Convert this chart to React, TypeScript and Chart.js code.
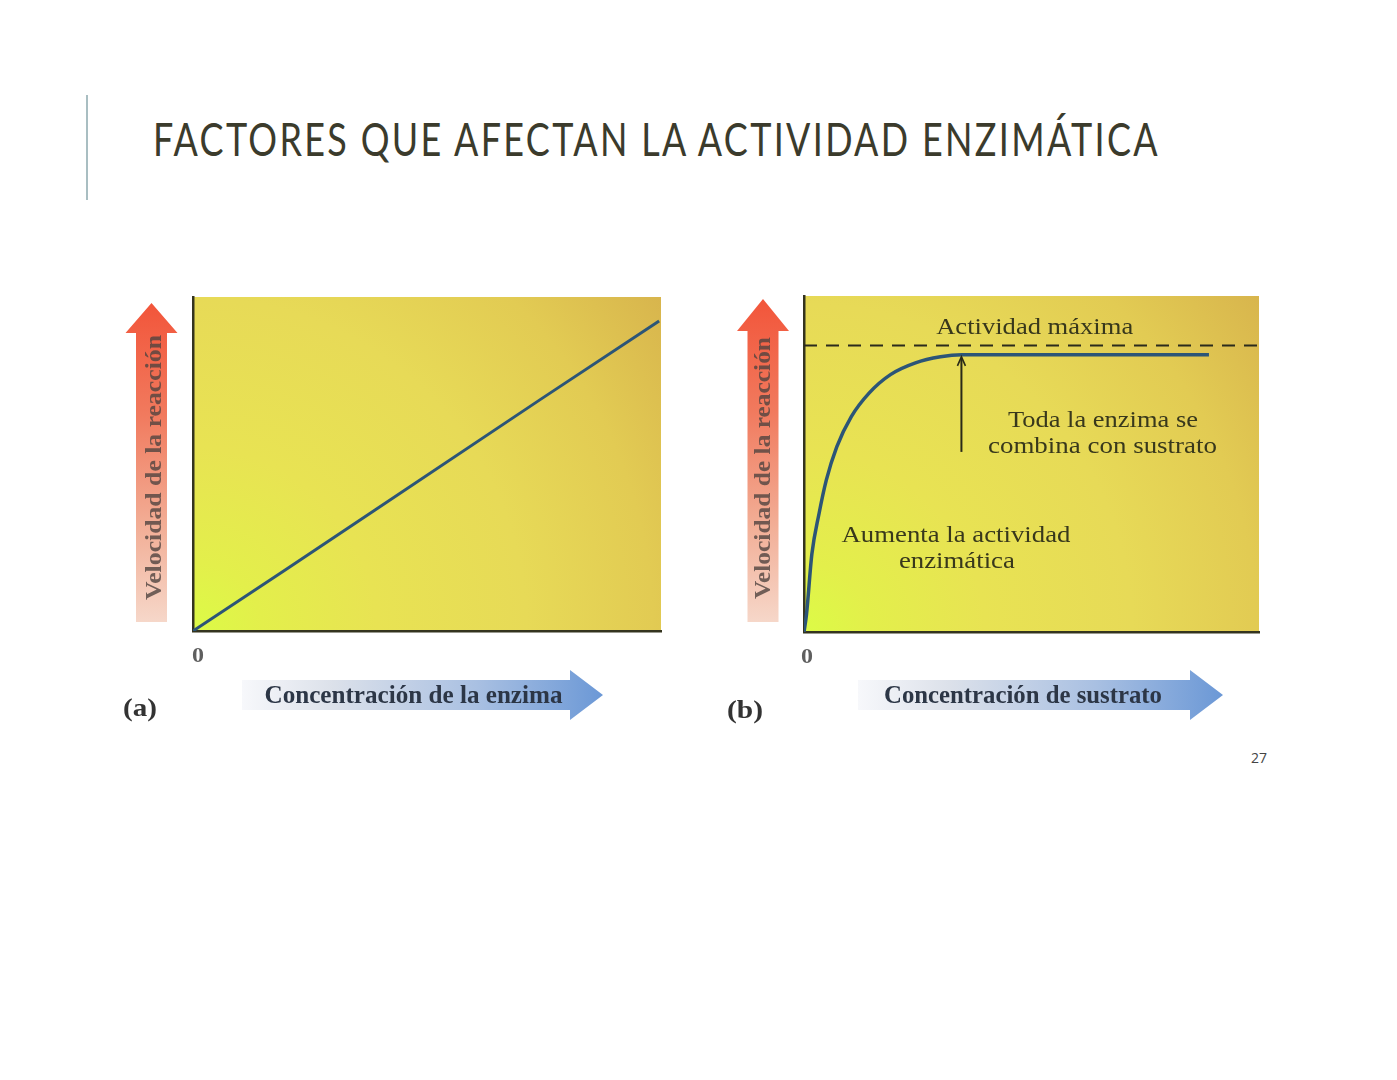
import React, { useEffect, useLayoutEffect, useRef } from 'react';
import { Chart, registerables } from 'chart.js';
Chart.register(...registerables);

// ---------- text ----------
const TITLE = 'FACTORES QUE AFECTAN LA ACTIVIDAD ENZIMÁTICA';
const PAGE_NUMBER = '27';
const yAxisLabel = 'Velocidad de la reacción';
const xAxisLabelA = 'Concentración de la enzima';
const xAxisLabelB = 'Concentración de sustrato';
const panelTags = ['(a)', '(b)'];
const zeroTick = '0';

// ---------- data ----------
const axisMin = 0;
const axisMax = 10;
// Panel (a): rate vs enzyme concentration
const enzymeConc = [0, 1.97, 3.89, 7.41, 9.96];
const enzymeRate = [0, 1.83, 3.62, 6.92, 9.28];
// Panel (b): rate vs substrate concentration
const substrateConc = [0, 0.055, 0.173, 0.33, 0.49, 0.72, 1.04, 1.43, 1.9, 2.45, 3.0, 3.47, 8.9];
const substrateRate = [0, 0.53, 2.32, 3.52, 4.52, 5.51, 6.41, 7.11, 7.66, 8.01, 8.19, 8.25, 8.25];
const maxActivityX = [0, 10];
const maxActivityY = [8.53, 8.53];
// annotations of panel (b)
const annotationTexts = [
  'Actividad máxima',
  'Toda la enzima se',
  'combina con sustrato',
  'Aumenta la actividad',
  'enzimática',
];
const annotationX = [5.07, 6.57, 6.56, 3.34, 3.36];
const annotationY = [8.87, 6.11, 5.33, 2.68, 1.9];
const saturationArrowX = 3.46;
const saturationArrowFrom = 5.36;
const saturationArrowTo = 8.19;

// ---------- styles ----------
const annotationWidths = [197, 190, 229, 229, 116];
const SERIF = '"Liberation Serif", "Times New Roman", serif';
const LINE_COLOR = '#2c5577';
const AXIS_COLOR = '#34341f';

function fitText(
  ctx: CanvasRenderingContext2D,
  text: string,
  cx: number,
  baseY: number,
  width: number,
  font: string,
  color: string,
  rotate = 0
) {
  ctx.save();
  ctx.font = font;
  const m = ctx.measureText(text).width;
  ctx.translate(cx, baseY);
  if (rotate) ctx.rotate(rotate);
  ctx.scale(width / m, 1);
  ctx.textAlign = 'center';
  ctx.textBaseline = 'alphabetic';
  ctx.fillStyle = color;
  ctx.fillText(text, 0, 0);
  ctx.restore();
}

function upArrow(ctx: CanvasRenderingContext2D, cx: number, tip: number, base: number, bottom: number, headHalf: number, shaftHalf: number) {
  const g = ctx.createLinearGradient(0, tip, 0, bottom);
  g.addColorStop(0, '#f2553a');
  g.addColorStop(0.35, '#f17a5e');
  g.addColorStop(0.7, '#f2ae96');
  g.addColorStop(1, '#f6d7c9');
  ctx.save();
  ctx.fillStyle = g;
  ctx.beginPath();
  ctx.moveTo(cx, tip);
  ctx.lineTo(cx + headHalf, base);
  ctx.lineTo(cx + shaftHalf, base);
  ctx.lineTo(cx + shaftHalf, bottom);
  ctx.lineTo(cx - shaftHalf, bottom);
  ctx.lineTo(cx - shaftHalf, base);
  ctx.lineTo(cx - headHalf, base);
  ctx.closePath();
  ctx.fill();
  ctx.restore();
}

function rightArrow(ctx: CanvasRenderingContext2D, start: number, tip: number, base: number, cy: number, headHalf: number, shaftHalf: number) {
  const g = ctx.createLinearGradient(start, 0, tip, 0);
  g.addColorStop(0, '#f7f8fb');
  g.addColorStop(0.25, '#dce1ea');
  g.addColorStop(0.65, '#a9c0e2');
  g.addColorStop(1, '#6b98d6');
  ctx.save();
  ctx.fillStyle = g;
  ctx.beginPath();
  ctx.moveTo(start, cy - shaftHalf);
  ctx.lineTo(base, cy - shaftHalf);
  ctx.lineTo(base, cy - headHalf);
  ctx.lineTo(tip, cy);
  ctx.lineTo(base, cy + headHalf);
  ctx.lineTo(base, cy + shaftHalf);
  ctx.lineTo(start, cy + shaftHalf);
  ctx.closePath();
  ctx.fill();
  ctx.restore();
}

function fillPlot(ctx: CanvasRenderingContext2D, a: any) {
  const w = a.right - a.left;
  const h = a.bottom - a.top;
  const r = Math.sqrt(w * w + h * h);
  const g = ctx.createRadialGradient(a.left, a.bottom, 0, a.left, a.bottom, r);
  g.addColorStop(0, '#dcfb46');
  g.addColorStop(0.12, '#e3ef4b');
  g.addColorStop(0.32, '#e8e353');
  g.addColorStop(0.58, '#e7da57');
  g.addColorStop(0.8, '#e2cb53');
  g.addColorStop(1, '#d8b54d');
  ctx.save();
  ctx.fillStyle = g;
  ctx.fillRect(a.left, a.top, w, h);
  ctx.restore();
}

type Geom = {
  yArrowDx: number; tipDy: number; baseDy: number; bottomDy: number;
  yLabelDx: number; yLabelDy: number; yLabelW: number;
  xStart: number; xTip: number; xBase: number; xCy: number;
  xLabelCx: number; xLabelDy: number; xLabelW: number; xLabel: string;
  zeroDx: number; tagDx: number; tagDy: number; tagW: number; tag: string;
};

function makeDecor(geom: Geom, extra?: (chart: any) => void) {
  return {
    id: 'decor',
    beforeDraw(chart: any) {
      const ctx = chart.ctx as CanvasRenderingContext2D;
      const a = chart.chartArea;
      fillPlot(ctx, a);
      // y axis arrow + label
      const cx = a.left - geom.yArrowDx;
      upArrow(ctx, cx, a.top + geom.tipDy, a.top + geom.baseDy, a.bottom - geom.bottomDy, 26, 15.5);
      fitText(ctx, yAxisLabel, a.left - geom.yLabelDx, a.top + geom.yLabelDy, geom.yLabelW,
        `bold 23px ${SERIF}`, 'rgba(80,68,64,0.8)', -Math.PI / 2);
      // x axis arrow + label
      rightArrow(ctx, a.left + geom.xStart, a.left + geom.xTip, a.left + geom.xBase, a.bottom + geom.xCy, 25, 15);
      fitText(ctx, geom.xLabel, a.left + geom.xLabelCx, a.bottom + geom.xLabelDy, geom.xLabelW,
        `bold 26px ${SERIF}`, '#2c3646');
      // zero tick
      const x0 = chart.scales.x.getPixelForValue(axisMin);
      fitText(ctx, zeroTick, x0 + geom.zeroDx, a.bottom + 30.5, 12, `bold 21px ${SERIF}`, '#5f5f5f');
      // panel tag
      fitText(ctx, geom.tag, a.left - geom.tagDx, a.bottom + geom.tagDy, geom.tagW, `bold 26px ${SERIF}`, '#333333');
    },
    afterDatasetsDraw(chart: any) {
      if (extra) extra(chart);
    },
  };
}

function axisScale() {
  return {
    type: 'linear' as const,
    min: axisMin,
    max: axisMax,
    grid: { display: false, drawTicks: false, tickLength: 0 },
    ticks: { display: false, padding: 0 },
    border: { display: true, color: AXIS_COLOR, width: 2.5 },
  };
}

function Panel(props: {
  left: number; top: number; width: number; height: number;
  padding: { left: number; top: number; right: number; bottom: number };
  datasets: any[]; plugin: any;
}) {
  const ref = useRef<HTMLCanvasElement>(null);
  useEffect(() => {
    const chart = new Chart(ref.current as HTMLCanvasElement, {
      type: 'line',
      data: { datasets: props.datasets },
      options: {
        animation: false,
        responsive: false,
        events: [],
        layout: { padding: props.padding },
        plugins: { legend: { display: false }, tooltip: { enabled: false } },
        elements: { point: { radius: 0 } },
        scales: { x: axisScale(), y: axisScale() },
      },
      plugins: [props.plugin],
    } as any);
    return () => chart.destroy();
  }, []);
  return (
    <canvas
      ref={ref}
      width={props.width}
      height={props.height}
      style={{ position: 'absolute', left: props.left, top: props.top, width: props.width, height: props.height }}
    />
  );
}

const geomA: Geom = {
  yArrowDx: 41.5, tipDy: 6, baseDy: 36, bottomDy: 9,
  yLabelDx: 32, yLabelDy: 170.5, yLabelW: 265,
  xStart: 49, xTip: 410, xBase: 377, xCy: 64,
  xLabelCx: 220.5, xLabelDy: 71.5, xLabelW: 298, xLabel: xAxisLabelA,
  zeroDx: 5, tagDx: 53, tagDy: 85, tagW: 34, tag: panelTags[0],
};

const geomB: Geom = {
  yArrowDx: 41, tipDy: 3, baseDy: 35, bottomDy: 10,
  yLabelDx: 34, yLabelDy: 172, yLabelW: 262,
  xStart: 54, xTip: 419, xBase: 386, xCy: 63,
  xLabelCx: 219, xLabelDy: 71, xLabelW: 278, xLabel: xAxisLabelB,
  zeroDx: 3, tagDx: 59, tagDy: 86, tagW: 36, tag: panelTags[1],
};

function drawAnnotationsB(chart: any) {
  const ctx = chart.ctx as CanvasRenderingContext2D;
  const xs = chart.scales.x;
  const ys = chart.scales.y;
  annotationTexts.forEach((t, i) => {
    fitText(ctx, t, xs.getPixelForValue(annotationX[i]), ys.getPixelForValue(annotationY[i]),
      annotationWidths[i], `23px ${SERIF}`, '#38381c');
  });
  const ax = xs.getPixelForValue(saturationArrowX);
  const y1 = ys.getPixelForValue(saturationArrowFrom);
  const y2 = ys.getPixelForValue(saturationArrowTo);
  ctx.save();
  ctx.strokeStyle = '#2a2a18';
  ctx.lineWidth = 2;
  ctx.beginPath();
  ctx.moveTo(ax, y1);
  ctx.lineTo(ax, y2 + 1);
  ctx.stroke();
  ctx.lineWidth = 1.6;
  ctx.beginPath();
  ctx.moveTo(ax - 4, y2 + 9);
  ctx.lineTo(ax, y2);
  ctx.lineTo(ax + 4, y2 + 9);
  ctx.stroke();
  ctx.restore();
}

const datasetsA = [
  {
    data: enzymeConc.map((x, i) => ({ x, y: enzymeRate[i] })),
    borderColor: LINE_COLOR,
    borderWidth: 3,
    tension: 0,
    fill: false,
  },
];

const datasetsB = [
  {
    data: maxActivityX.map((x, i) => ({ x, y: maxActivityY[i] })),
    borderColor: '#2b2b1c',
    borderWidth: 2,
    borderDash: [13, 9],
    tension: 0,
    fill: false,
  },
  {
    data: substrateConc.map((x, i) => ({ x, y: substrateRate[i] })),
    borderColor: LINE_COLOR,
    borderWidth: 3.5,
    cubicInterpolationMode: 'monotone',
    fill: false,
  },
];

export default function App() {
  const titleRef = useRef<HTMLSpanElement>(null);
  useLayoutEffect(() => {
    const el = titleRef.current;
    if (!el) return;
    el.style.transform = 'none';
    const w = el.getBoundingClientRect().width;
    el.style.transform = `scaleX(${1007 / w})`;
  }, []);

  return (
    <div style={{ position: 'absolute', left: 0, top: 0, width: 1397, height: 1080, background: '#ffffff', overflow: 'hidden' }}>
      <div style={{ position: 'absolute', left: 86, top: 95, width: 2, height: 105, background: '#a9bec2' }} />
      <span
        ref={titleRef}
        style={{
          position: 'absolute', left: 153, top: 116, fontFamily: 'Lato, "Open Sans", sans-serif',
          fontWeight: 400, letterSpacing: 3,
          fontSize: 46, lineHeight: '46px', color: '#3b3b2c', whiteSpace: 'nowrap',
          display: 'inline-block', transformOrigin: '0 0',
        }}
      >
        {TITLE}
      </span>
      <Panel
        left={100} top={280} width={600} height={460}
        padding={{ left: 93, top: 17, right: 39, bottom: 109 }}
        datasets={datasetsA}
        plugin={makeDecor(geomA)}
      />
      <Panel
        left={710} top={280} width={590} height={460}
        padding={{ left: 94, top: 16, right: 41, bottom: 108 }}
        datasets={datasetsB}
        plugin={makeDecor(geomB, drawAnnotationsB)}
      />
      <span
        style={{
          position: 'absolute', left: 1251, top: 751, fontFamily: '"Open Sans", sans-serif',
          fontSize: 14, lineHeight: '14px', color: '#444444',
        }}
      >
        {PAGE_NUMBER}
      </span>
    </div>
  );
}
